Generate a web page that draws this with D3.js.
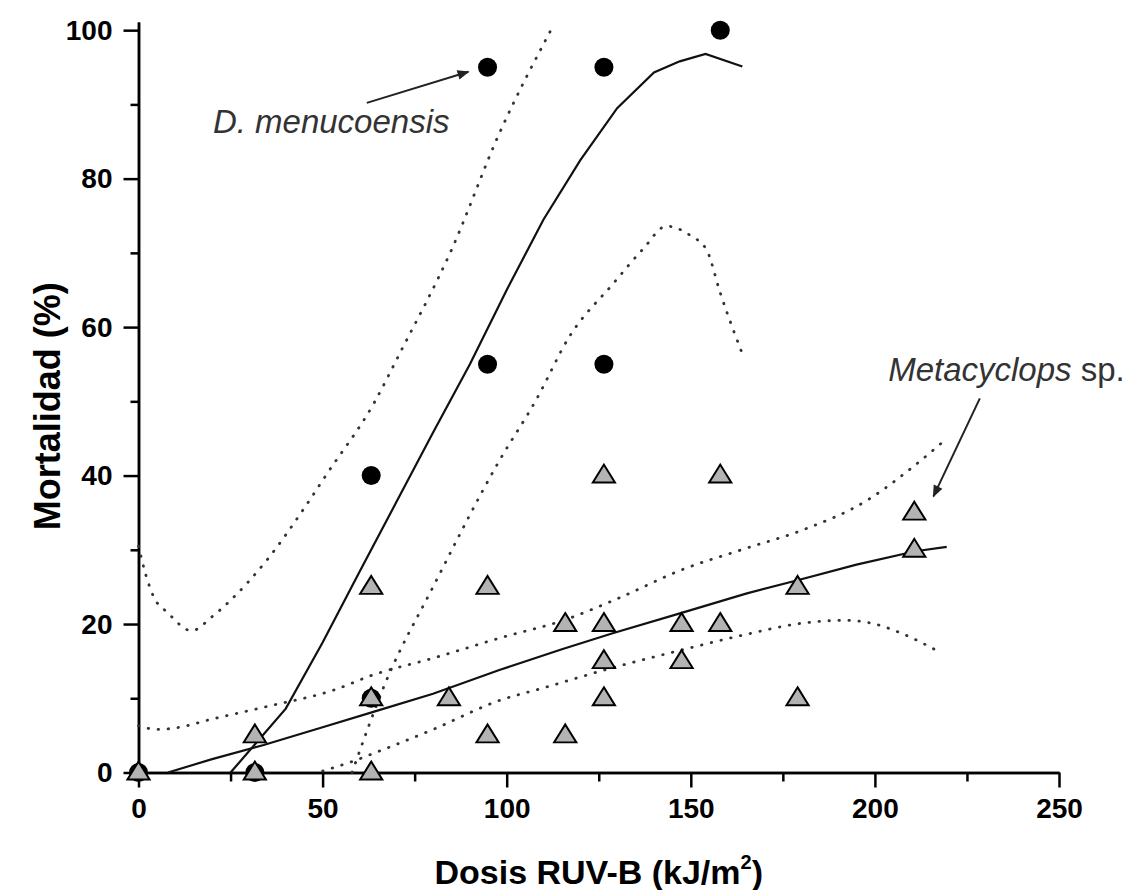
<!DOCTYPE html>
<html>
<head>
<meta charset="utf-8">
<script src="https://cdn.jsdelivr.net/npm/d3@7"></script>
<style>
  body { margin:0; background:#fff; }
  svg { display:block; font-family:"Liberation Sans", Arial, sans-serif; }
  .axis path, .axis line { stroke:#000; stroke-width:2.5; }
  .axis text { font-size:28px; font-weight:bold; fill:#000; }
</style>
</head>
<body>
<div id="canvas"></div>
<script>
// doses (kJ/m2) and mortality (%)
var menDose = [0, 31.6, 63.2, 63.2, 94.8, 94.8, 126.4, 126.4, 158.0];
var menMort = [0, 0, 10, 40, 55, 95, 55, 95, 100];

var metaDose = [0, 31.6, 31.6, 63.2, 63.2, 63.2, 84.3, 94.8, 94.8, 115.9, 115.9,
                126.4, 126.4, 126.4, 126.4, 147.5, 147.5, 158.0, 158.0, 179.0, 179.0, 210.7, 210.7];
var metaMort = [0, 0, 5, 0, 10, 25, 10, 5, 25, 5, 20,
                10, 15, 20, 40, 15, 20, 20, 40, 10, 25, 30, 35];

// fitted curve and confidence bands
var menFitX = [25, 32, 40, 50, 60, 70, 80, 90, 100, 110, 120, 130, 140, 147, 154, 164];
var menFitY = [0, 4, 8.6, 17.5, 27, 36.4, 45.8, 55, 65, 74.5, 82.5, 89.5, 94.3, 95.8, 96.8, 95.1];
var menUpX = [0, 2, 4, 8, 14.4, 20, 25, 35, 45, 51, 64, 71, 85, 98, 112];
var menUpY = [30.5, 26.6, 23.8, 21.5, 19.1, 21, 23.2, 28.7, 35.6, 40.1, 49.8, 56.5, 70.4, 86.1, 100];
var menLoX = [58, 67, 80, 98, 108, 117, 129, 137, 143.4, 150, 154.3, 158, 164.3];
var menLoY = [0, 12, 25, 42, 50.2, 58.7, 65.9, 70.5, 73.6, 72.3, 70.4, 64.6, 56];

var metaFitX = [8, 20, 34, 50, 64, 80, 98, 115, 129, 147.5, 165, 179, 195, 211, 219.5];
var metaFitY = [0, 1.8, 3.7, 6.1, 8.2, 10.6, 13.8, 16.6, 18.8, 21.5, 24.1, 25.9, 28, 29.8, 30.4];
var metaUpX = [0, 5, 10, 20, 35, 53, 64, 80, 98, 116, 130, 147.5, 165, 180, 198, 210.4, 218.6];
var metaUpY = [6.3, 5.8, 6, 7.2, 8.9, 11.1, 13.2, 15.4, 18.1, 20.6, 23.4, 27.3, 30.2, 32.6, 36.7, 41.2, 44.6];
var metaLoX = [50, 57, 66, 80, 98, 110, 126.5, 147.5, 165, 180, 192, 200, 207, 218];
var metaLoY = [0.2, 1.3, 3, 5.8, 9.7, 11.4, 13.8, 16.5, 18.6, 20.1, 20.5, 20, 18.8, 16.1];

var xTicks = [0, 50, 100, 150, 200, 250];
var xMinor = [25, 75, 125, 175, 225];
var yTicks = [0, 20, 40, 60, 80, 100];
var yMinor = [10, 30, 50, 70, 90];

var W = 1131, H = 890;
var svg = d3.select('#canvas').append('svg')
    .attr('width', W).attr('height', H);
svg.append('rect').attr('width', W).attr('height', H).attr('fill', '#fff');

var x = d3.scaleLinear().domain([0, 250]).range([138.5, 1059]);
var y = d3.scaleLinear().domain([0, 101.1]).range([772.5, 22]);

// arrow head
svg.append('defs').append('marker')
    .attr('id', 'arrow')
    .attr('viewBox', '0 0 10 10')
    .attr('refX', 9).attr('refY', 5)
    .attr('markerWidth', 14).attr('markerHeight', 12)
    .attr('markerUnits', 'userSpaceOnUse')
    .attr('orient', 'auto')
    .append('path').attr('d', 'M0,1 L10,5 L0,9 Z').attr('fill', '#222');

// axes
svg.append('g').attr('class', 'axis')
    .attr('transform', 'translate(0,' + y(0) + ')')
    .call(d3.axisBottom(x).tickValues(xTicks).tickSize(15).tickSizeOuter(0).tickPadding(11));
svg.append('g').attr('class', 'axis')
    .attr('transform', 'translate(0,' + y(0) + ')')
    .call(d3.axisBottom(x).tickValues(xMinor).tickSize(9).tickSizeOuter(0).tickFormat(''));
svg.append('g').attr('class', 'axis')
    .attr('transform', 'translate(' + x(0) + ',0)')
    .call(d3.axisLeft(y).tickValues(yTicks).tickSize(15).tickSizeOuter(0).tickPadding(11));
svg.append('g').attr('class', 'axis')
    .attr('transform', 'translate(' + x(0) + ',0)')
    .call(d3.axisLeft(y).tickValues(yMinor).tickSize(8).tickSizeOuter(0).tickFormat(''));

// curves
function pts(xs, ys) { return xs.map(function(v, i) { return [v, ys[i]]; }); }
var lineLin = d3.line().x(function(d){ return x(d[0]); }).y(function(d){ return y(d[1]); });
var lineSm = d3.line().x(function(d){ return x(d[0]); }).y(function(d){ return y(d[1]); })
    .curve(d3.curveMonotoneX);

var solid = [pts(menFitX, menFitY), pts(metaFitX, metaFitY)];
var dotted = [pts(menUpX, menUpY), pts(menLoX, menLoY), pts(metaUpX, metaUpY), pts(metaLoX, metaLoY)];

svg.selectAll('.fit').data(solid).enter().append('path')
    .attr('class', 'fit')
    .attr('d', lineLin)
    .attr('fill', 'none').attr('stroke', '#111').attr('stroke-width', 2.2);

svg.selectAll('.band').data(dotted).enter().append('path')
    .attr('class', 'band')
    .attr('d', lineSm)
    .attr('fill', 'none').attr('stroke', '#333').attr('stroke-width', 2.8)
    .attr('stroke-linecap', 'round')
    .attr('stroke-dasharray', '0.5,9.5');

// D. menucoensis points
svg.selectAll('.men').data(menDose).enter().append('circle')
    .attr('class', 'men')
    .attr('cx', function(d){ return x(d); })
    .attr('cy', function(d, i){ return y(menMort[i]); })
    .attr('r', 9.5)
    .attr('fill', '#000');

// Metacyclops points
var tri = d3.symbol().type(d3.symbolTriangle).size(205);
svg.selectAll('.meta').data(metaDose).enter().append('path')
    .attr('class', 'meta')
    .attr('d', tri)
    .attr('transform', function(d, i){ return 'translate(' + x(d) + ',' + (y(metaMort[i]) + 1) + ') scale(1.02,0.95)'; })
    .attr('fill', '#b3b3b3')
    .attr('stroke', '#000').attr('stroke-width', 2);

// annotations
svg.append('line')
    .attr('x1', x(62)).attr('y1', y(90.2))
    .attr('x2', x(89.6)).attr('y2', y(94.4))
    .attr('stroke', '#222').attr('stroke-width', 2)
    .attr('marker-end', 'url(#arrow)');
svg.append('text')
    .attr('x', x(20.2)).attr('y', y(86.2))
    .attr('font-size', 33).attr('font-style', 'italic').attr('fill', '#333')
    .text('D. menucoensis');

svg.append('line')
    .attr('x1', x(228.5)).attr('y1', y(50.4))
    .attr('x2', x(215.9)).attr('y2', y(37.2))
    .attr('stroke', '#222').attr('stroke-width', 2)
    .attr('marker-end', 'url(#arrow)');
var mt = svg.append('text')
    .attr('x', x(203.6)).attr('y', y(52.7))
    .attr('font-size', 33).attr('fill', '#333');
mt.append('tspan').attr('font-style', 'italic').text('Metacyclops');
mt.append('tspan').text(' sp.');

// axis titles
var xt = svg.append('text')
    .attr('x', (x(0) + x(250)) / 2).attr('y', 884)
    .attr('text-anchor', 'middle')
    .attr('font-size', 34).attr('font-weight', 'bold').attr('fill', '#000');
xt.append('tspan').text('Dosis RUV-B (kJ/m');
xt.append('tspan').attr('font-size', 20).attr('dy', -15).text('2');
xt.append('tspan').attr('dy', 15).text(')');

svg.append('text')
    .attr('transform', 'translate(60,' + ((y(0) + y(100)) / 2 + 5) + ') rotate(-90)')
    .attr('text-anchor', 'middle')
    .attr('font-size', 36).attr('font-weight', 'bold').attr('fill', '#000')
    .text('Mortalidad (%)');
</script>
</body>
</html>
